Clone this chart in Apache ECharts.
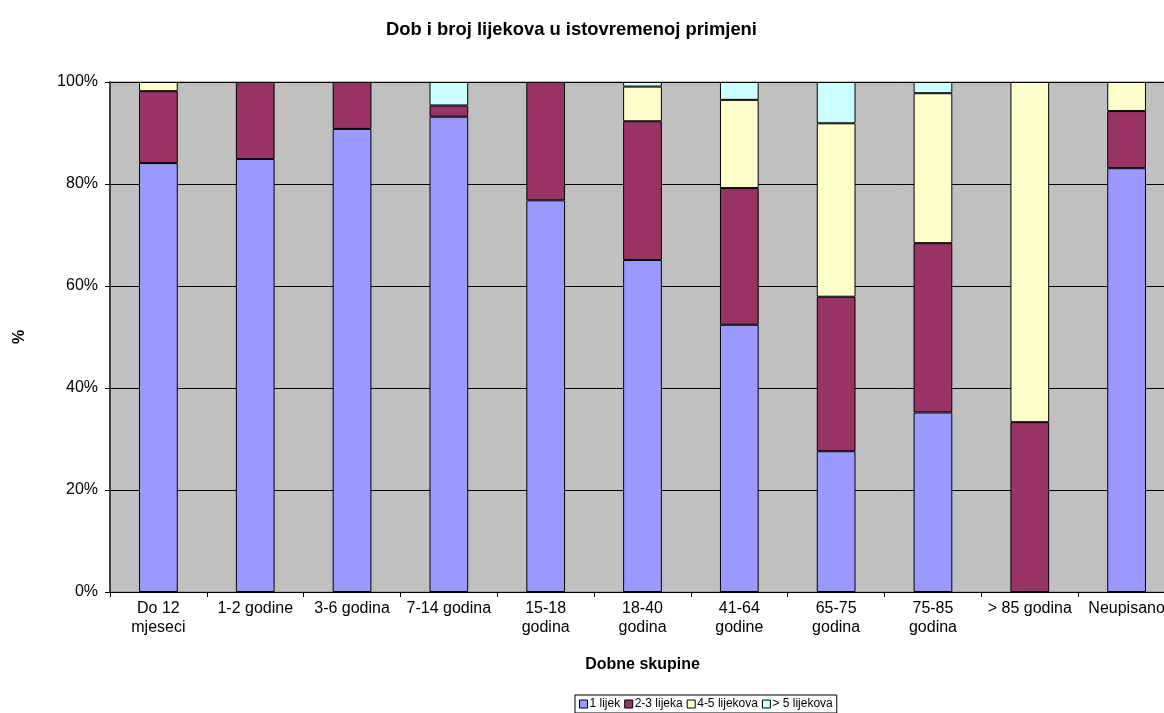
<!DOCTYPE html>
<html>
<head>
<meta charset="utf-8">
<script src="https://cdn.jsdelivr.net/npm/echarts@6/dist/echarts.min.js"></script>
<style>
html,body{margin:0;padding:0;background:#fff;}
#main{width:1164px;height:713px;}
</style>
</head>
<body>
<div id="main"></div>
<script>
var categories = ["Do 12\nmjeseci", "1-2 godine", "3-6 godina", "7-14 godina", "15-18\ngodina", "18-40\ngodina", "41-64\ngodine", "65-75\ngodina", "75-85\ngodina", "> 85 godina", "Neupisano"];
var seriesNames = ["1 lijek", "2-3 lijeka", "4-5 lijekova", "> 5 lijekova"];
var s1 = [84.1, 84.9, 90.8, 93.2, 76.8, 65.1, 52.4, 27.6, 35.2, 0, 83.1];
var s2 = [14.1, 15.1, 9.2, 2.2, 23.2, 27.2, 26.8, 30.3, 33.2, 33.3, 11.2];
var s3 = [1.8, 0, 0, 0, 0, 6.8, 17.3, 34.0, 29.4, 66.7, 5.7];
var s4 = [0, 0, 0, 4.6, 0, 0.9, 3.5, 8.1, 2.2, 0, 0];
var yTicks = [0, 20, 40, 60, 80, 100];
var colors = ["#9999FF", "#993366", "#FFFFCC", "#CCFFFF"];

var font = "Arial, 'Liberation Sans', sans-serif";
var data = [s1, s2, s3, s4];
var chart = echarts.init(document.getElementById('main'));
chart.setOption({
  animation: false,
  backgroundColor: '#ffffff',
  title: {
    text: 'Dob i broj lijekova u istovremenoj primjeni',
    left: 381, top: 16,
    textStyle: {fontFamily: font, fontSize: 18.4, fontWeight: 'bold', color: '#000'}
  },
  legend: {
    bottom: 0, left: 575,
    data: seriesNames,
    icon: 'rect', itemWidth: 8, itemHeight: 8, itemGap: 4,
    borderColor: '#000', borderWidth: 1, padding: [3, 4, 3, 4],
    itemStyle: {borderColor: '#000', borderWidth: 1},
    textStyle: {fontFamily: font, fontSize: 12, color: '#000', padding: [0, 0, 0, -3]}
  },
  grid: {
    left: 110, top: 82, right: -11, bottom: 121,
    outerBoundsMode: 'none',
    show: true, backgroundColor: '#C0C0C0', borderColor: '#808080', borderWidth: 1
  },
  xAxis: {
    type: 'category', data: categories,
    name: 'Dobne skupine', nameLocation: 'middle', nameGap: 65,
    nameTextStyle: {fontFamily: font, fontSize: 16, fontWeight: 'bold', color: '#000'},
    axisLine: {lineStyle: {color: '#000', width: 1}},
    axisTick: {show: true, length: 5, lineStyle: {color: '#000'}},
    axisLabel: {interval: 0, margin: 7, fontFamily: font, fontSize: 16, color: '#000', lineHeight: 19}
  },
  yAxis: {
    type: 'value', min: 0, max: 100, interval: 20,
    name: '%', nameLocation: 'middle', nameGap: 82,
    nameTextStyle: {fontFamily: font, fontSize: 16, fontWeight: 'bold', color: '#000'},
    axisLine: {show: true, lineStyle: {color: '#404040', width: 2}},
    axisTick: {show: true, length: 5, lineStyle: {color: '#000'}},
    axisLabel: {margin: 12, fontFamily: font, fontSize: 16, color: '#000',
      formatter: function (v) { return yTicks.indexOf(v) >= 0 ? v + '%' : ''; }},
    splitLine: {show: true, lineStyle: {color: '#000', width: 1}}
  },
  series: seriesNames.map(function (n, i) {
    return {
      name: n, type: 'bar', stack: 'total', barWidth: '40%',
      data: data[i].map(function (v) { return v === 0 ? '-' : v; }),
      itemStyle: {color: colors[i], borderColor: '#000', borderWidth: 1}
    };
  })
});
</script>
</body>
</html>
